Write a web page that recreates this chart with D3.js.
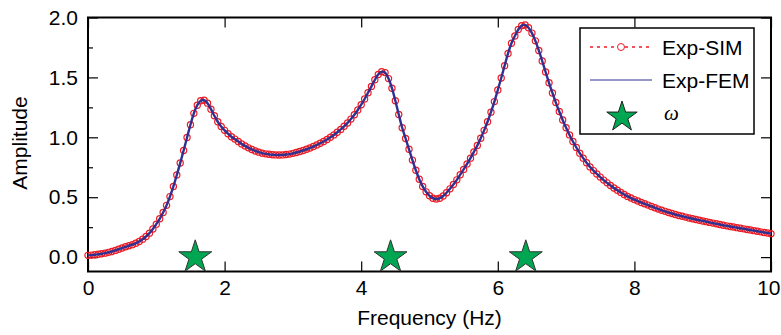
<!DOCTYPE html>
<html>
<head>
<meta charset="utf-8">
<script src="https://cdn.jsdelivr.net/npm/d3@7"></script>
<style>
  html, body { margin: 0; padding: 0; background: #fff; }
  svg { display: block; }
  text { font-family: "Liberation Sans", Arial, Helvetica, sans-serif; }
</style>
</head>
<body>
<div id="chart"></div>
<script>
// ---------------- data ----------------
const freqStart = 0;
const freqStep = 0.05;   // samples every 0.05 Hz
// amplitude (0 .. 10 Hz, 201 samples)
const amplitude = [
  0.015,0.017,0.020,0.024,0.028,0.033,0.040,0.047,0.056,0.066,
  0.076,0.086,0.095,0.104,0.116,0.131,0.150,0.172,0.200,0.235,
  0.275,0.320,0.372,0.432,0.505,0.590,0.685,0.785,0.890,0.998,
  1.105,1.200,1.268,1.305,1.310,1.285,1.235,1.180,1.130,1.090,
  1.058,1.030,1.005,0.985,0.965,0.945,0.928,0.912,0.898,0.886,
  0.876,0.868,0.862,0.858,0.855,0.853,0.852,0.853,0.856,0.860,
  0.866,0.873,0.881,0.890,0.900,0.911,0.923,0.936,0.950,0.965,
  0.982,1.000,1.020,1.042,1.066,1.092,1.120,1.152,1.188,1.228,
  1.272,1.320,1.372,1.425,1.480,1.525,1.548,1.540,1.490,1.410,
  1.305,1.190,1.080,0.990,0.900,0.810,0.725,0.650,0.590,0.545,
  0.512,0.492,0.485,0.492,0.510,0.537,0.570,0.606,0.645,0.688,
  0.732,0.778,0.826,0.878,0.932,0.992,1.058,1.130,1.210,1.298,
  1.395,1.495,1.598,1.700,1.785,1.845,1.900,1.932,1.938,1.915,
  1.870,1.805,1.725,1.637,1.545,1.455,1.370,1.290,1.215,1.145,
  1.080,1.020,0.965,0.915,0.868,0.826,0.788,0.753,0.722,0.694,
  0.668,0.643,0.620,0.598,0.577,0.558,0.540,0.523,0.507,0.493,
  0.480,0.468,0.456,0.445,0.434,0.423,0.412,0.401,0.391,0.382,
  0.372,0.364,0.356,0.348,0.341,0.334,0.327,0.320,0.314,0.308,
  0.302,0.296,0.290,0.284,0.278,0.272,0.266,0.261,0.256,0.251,
  0.246,0.241,0.236,0.231,0.226,0.221,0.216,0.211,0.206,0.201,
  0.196
];
const simValues = amplitude;   // Exp-SIM (circles)
const femValues = amplitude;   // Exp-FEM (line)
const omegaFreqs = [1.57, 4.43, 6.41];   // natural frequencies (stars)
const xTickValues = [0, 2, 4, 6, 8, 10];
const yTickValues = [0.0, 0.5, 1.0, 1.5, 2.0];
const yMinorTickValues = [0.25, 0.75, 1.25, 1.75];
const legendLabels = ["Exp-SIM", "Exp-FEM", "\u03c9"];

// ---------------- layout ----------------
const W = 781, H = 335;
const mLeft = 88, mRight = 771, mTop = 17.5, mBottom = 271.5;
const red = "#ec1c24", blue = "#2e3192", green = "#00a651";

const svg = d3.select("#chart").append("svg").attr("width", W).attr("height", H);

const x = d3.scaleLinear().domain([0, 10]).range([mLeft, mRight]);
const y = d3.scaleLinear().domain([-0.12, 2.0]).range([mBottom, mTop]);

const simData = simValues.map((v, i) => ({ f: freqStart + i * freqStep, a: v }));
const femData = femValues.map((v, i) => ({ f: freqStart + i * freqStep, a: v }));

// axes (inward ticks)
const fs = 21;
const gL = svg.append("g").attr("transform", `translate(${mLeft},0)`)
  .call(d3.axisLeft(y).tickValues(yTickValues).tickSize(-10).tickPadding(10).tickFormat(d3.format(".1f")));
const gLm = svg.append("g").attr("transform", `translate(${mLeft},0)`)
  .call(d3.axisLeft(y).tickValues(yMinorTickValues).tickSize(-5).tickFormat(""));
const gR = svg.append("g").attr("transform", `translate(${mRight},0)`)
  .call(d3.axisRight(y).tickValues(yTickValues).tickSize(-10).tickFormat(""));
const gB = svg.append("g").attr("transform", `translate(0,${mBottom})`)
  .call(d3.axisBottom(x).tickValues(xTickValues).tickSize(-10).tickPadding(9).tickFormat(d3.format("d")));
const gT = svg.append("g").attr("transform", `translate(0,${mTop})`)
  .call(d3.axisTop(x).tickValues(xTickValues).tickSize(-10).tickFormat(""));

[gL, gLm, gR, gB, gT].forEach(g => {
  g.select(".domain").remove();
  g.selectAll(".tick line").attr("stroke", "#000").attr("stroke-width", 1.2);
  g.selectAll(".tick text").attr("fill", "#000").style("font-size", fs + "px")
    .style("font-family", '"Liberation Sans", Arial, sans-serif');
});
// keep the last x label inside the window
gB.selectAll(".tick text").filter(d => d === 10).attr("text-anchor", "end").attr("x", 780 - x(10));

// frame
svg.append("rect").attr("x", mLeft).attr("y", mTop)
  .attr("width", mRight - mLeft).attr("height", mBottom - mTop)
  .attr("fill", "none").attr("stroke", "#000").attr("stroke-width", 2);

// Exp-SIM circles
svg.append("g").selectAll("circle").data(simData).join("circle")
  .attr("cx", d => x(d.f)).attr("cy", d => y(d.a)).attr("r", 3.1)
  .attr("fill", "none").attr("stroke", red).attr("stroke-width", 1.2);

// Exp-FEM line
const line = d3.line().x(d => x(d.f)).y(d => y(d.a)).curve(d3.curveCatmullRom);
svg.append("path").datum(femData).attr("d", line)
  .attr("fill", "none").attr("stroke", blue).attr("stroke-width", 2.4);

// stars
const star = d3.symbol().type(d3.symbolStar).size(17.3 * 17.3 / 0.8908);
svg.append("g").selectAll("path").data(omegaFreqs).join("path")
  .attr("d", star)
  .attr("transform", d => `translate(${x(d)},${y(0)})`)
  .attr("fill", green).attr("stroke", "#333").attr("stroke-width", 1);

// axis titles
svg.append("text").attr("x", (mLeft + mRight) / 2).attr("y", 325)
  .attr("text-anchor", "middle").style("font-size", fs + "px").text("Frequency (Hz)");
svg.append("text").attr("transform", "translate(27,143) rotate(-90)")
  .attr("text-anchor", "middle").style("font-size", fs + "px").text("Amplitude");

// legend
const lg = svg.append("g");
lg.append("rect").attr("x", 580).attr("y", 28).attr("width", 174).attr("height", 106)
  .attr("fill", "#fff").attr("stroke", "#000").attr("stroke-width", 1.5);
const rows = [47, 80, 115];
lg.append("line").attr("x1", 590).attr("x2", 652).attr("y1", rows[0]).attr("y2", rows[0])
  .attr("stroke", red).attr("stroke-width", 1.5).attr("stroke-dasharray", "3,4");
lg.append("circle").attr("cx", 621).attr("cy", rows[0]).attr("r", 3.5)
  .attr("fill", "#fff").attr("stroke", red).attr("stroke-width", 1);
lg.append("line").attr("x1", 590).attr("x2", 652).attr("y1", rows[1]).attr("y2", rows[1])
  .attr("stroke", blue).attr("stroke-width", 1);
lg.append("path").attr("d", d3.symbol().type(d3.symbolStar).size(16 * 16 / 0.8908))
  .attr("transform", `translate(622,${rows[2] + 2})`)
  .attr("fill", green).attr("stroke", "#222").attr("stroke-width", 1);
lg.append("text").attr("x", 662).attr("y", rows[0] + 7.5).style("font-size", fs + "px").text(legendLabels[0]);
lg.append("text").attr("x", 662).attr("y", rows[1] + 7.5).style("font-size", fs + "px").text(legendLabels[1]);
lg.append("text").attr("x", 664).attr("y", rows[2] + 5)
  .style("font-family", '"Liberation Serif", "Times New Roman", serif')
  .style("font-style", "italic").style("font-size", fs + "px").text(legendLabels[2]);
</script>
</body>
</html>
